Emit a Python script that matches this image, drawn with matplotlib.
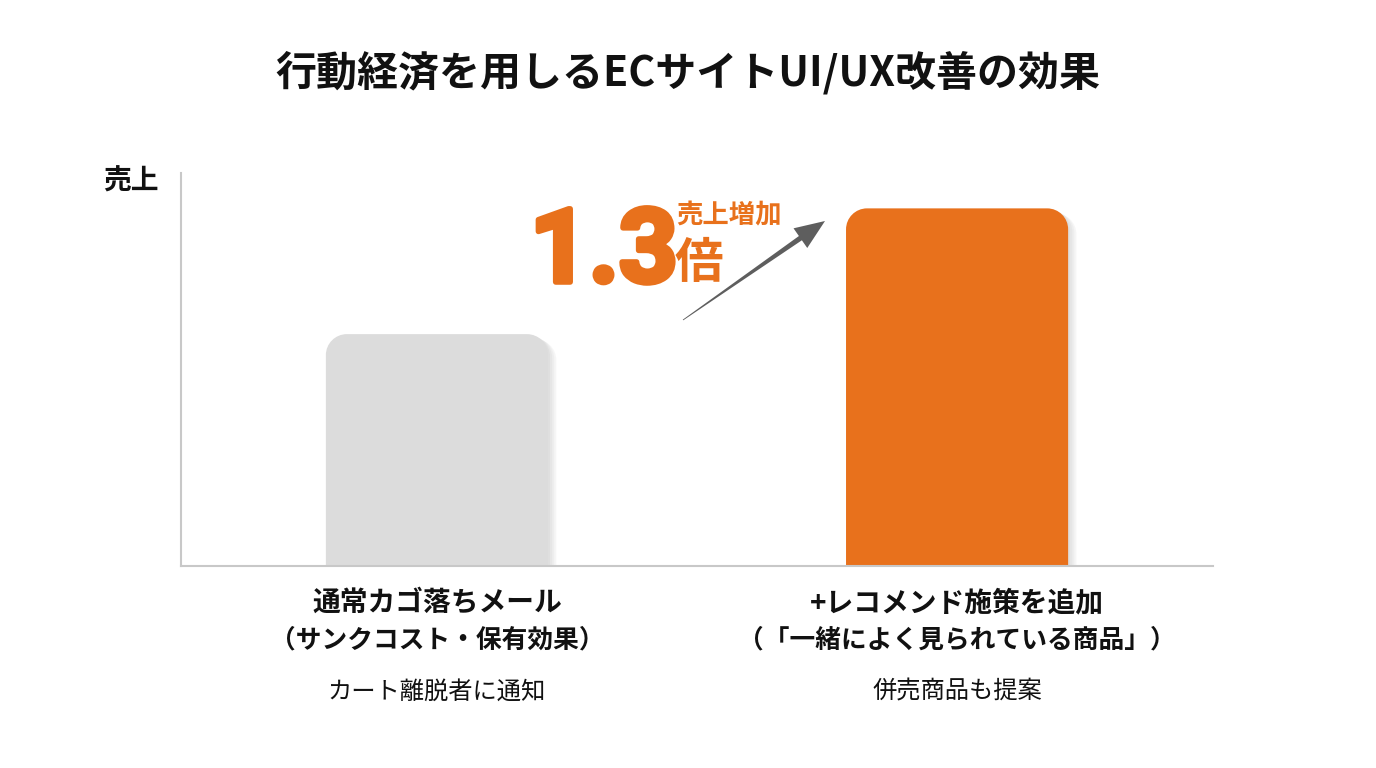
import matplotlib
matplotlib.use("Agg")
import matplotlib.pyplot as plt
import matplotlib.patheffects as pe
from matplotlib.path import Path
from matplotlib.patches import PathPatch, Polygon
from matplotlib import transforms
import numpy as np

plt.rcParams['font.family'] = ['Noto Sans CJK JP', 'DejaVu Sans']

# ---- data ----
title = "行動経済を用しるECサイトUI/UX改善の効果"
y_label = "売上"
cat_main = ["通常カゴ落ちメール", "+レコメンド施策を追加"]
cat_sub = ["（サンクコスト・保有効果）", "（「一緒によく見られている商品」）"]
cat_note = ["カート離脱者に通知", "併売商品も提案"]
values = [59, 91]
bar_colors = ["#DCDCDC", "#E8711C"]
ratio_text = "1.3"
ratio_label_top = "売上増加"
ratio_label_unit = "倍"
orange = "#E8711C"

W, H = 1376, 768
fig = plt.figure(figsize=(W / 100, H / 100), dpi=100)
fig.patch.set_facecolor("white")

ax_l, ax_r, ax_b, ax_t = 181, 1213, 566, 173
ax = fig.add_axes([ax_l / W, 1 - ax_b / H, (ax_r - ax_l) / W, (ax_b - ax_t) / H])
ax.set_xlim(-0.492, 1.492)
ax.set_ylim(0, 100)
for s in ["top", "right"]:
    ax.spines[s].set_visible(False)
for s in ["left", "bottom"]:
    ax.spines[s].set_color("#C8C8C8")
    ax.spines[s].set_linewidth(1.5)
ax.set_xticks([])
ax.set_yticks([])

bar_w = 0.427
bars = ax.bar(range(len(values)), values, width=bar_w, color=bar_colors, zorder=2)

# replace with rounded-top versions
px_x = (1.492 + 0.492) / (ax_r - ax_l)
px_y = 100 / (ax_b - ax_t)
r_px = 21
rx, ry = r_px * px_x, r_px * px_y
k = 0.5523
for b, c in zip(bars, bar_colors):
    x0, y0 = b.get_x(), b.get_y()
    w, h = b.get_width(), b.get_height()
    x1, y1 = x0 + w, y0 + h
    verts = [
        (x0, y0), (x0, y1 - ry),
        (x0, y1 - ry + k * ry), (x0 + rx - k * rx, y1), (x0 + rx, y1),
        (x1 - rx, y1),
        (x1 - rx + k * rx, y1), (x1, y1 - ry + k * ry), (x1, y1 - ry),
        (x1, y0), (x0, y0),
    ]
    codes = [Path.MOVETO, Path.LINETO,
             Path.CURVE4, Path.CURVE4, Path.CURVE4,
             Path.LINETO,
             Path.CURVE4, Path.CURVE4, Path.CURVE4,
             Path.LINETO, Path.CLOSEPOLY]
    effects = [pe.SimplePatchShadow(offset=(o, -o * 0.6), shadow_rgbFace="#8a8a8a", alpha=0.07)
               for o in (1.5, 3, 4.5, 6)]
    patch = PathPatch(Path(verts, codes), facecolor=c, edgecolor="none", zorder=2,
                      path_effects=effects + [pe.Normal()])
    ax.add_patch(patch)
    b.set_visible(False)

# title and y label
fig.text(0.5, 1 - 73 / H, title, ha="center", va="center", fontsize=29.5,
         fontweight="bold", color="#111111")
fig.text(159 / W, 1 - 182 / H, y_label, ha="right", va="center", fontsize=20,
         fontweight="bold", color="#111111")

# category labels
bt = transforms.blended_transform_factory(ax.transData, fig.transFigure)
for i in range(len(values)):
    ax.text(i, 1 - 603 / H, cat_main[i], transform=bt, ha="center", va="center",
            fontsize=20, fontweight="bold", color="#111111", clip_on=False)
    ax.text(i, 1 - 640 / H, cat_sub[i], transform=bt, ha="center", va="center",
            fontsize=18.5, fontweight="bold", color="#111111", clip_on=False)
    ax.text(i, 1 - 692 / H, cat_note[i], transform=bt, ha="center", va="center",
            fontsize=17.5, color="#111111", clip_on=False)

# ratio annotation
fig.text(530 / W, 1 - 282 / H, ratio_text, ha="left", va="baseline", fontsize=74,
         fontweight="bold", color=orange, family=["Roboto", "DejaVu Sans"],
         path_effects=[pe.withStroke(linewidth=4, foreground=orange)])
fig.text(676 / W, 1 - 216 / H, ratio_label_top, ha="left", va="center", fontsize=19,
         fontweight="bold", color=orange)
fig.text(675 / W, 1 - 264 / H, ratio_label_unit, ha="left", va="center", fontsize=35,
         fontweight="bold", color=orange)

# arrow (tapered shaft + head)
tail = np.array([683.0, 320.0])
tip = np.array([825.0, 221.0])
d = tip - tail
L = np.hypot(*d)
u = d / L
n = np.array([-u[1], u[0]])
head_len, head_hw = 30.0, 12.0
base = tip - u * head_len
pts = [tail + n * 0.4, base + n * 2.6, base + n * head_hw, tip,
       base - n * head_hw, base - n * 2.6, tail - n * 0.4]
pts_fig = [(p[0] / W, 1 - p[1] / H) for p in pts]
fig.patches.append(Polygon(pts_fig, closed=True, transform=fig.transFigure,
                           facecolor="#5E5E5E", edgecolor="none"))

fig.savefig("out.png", dpi=100, facecolor="white")
